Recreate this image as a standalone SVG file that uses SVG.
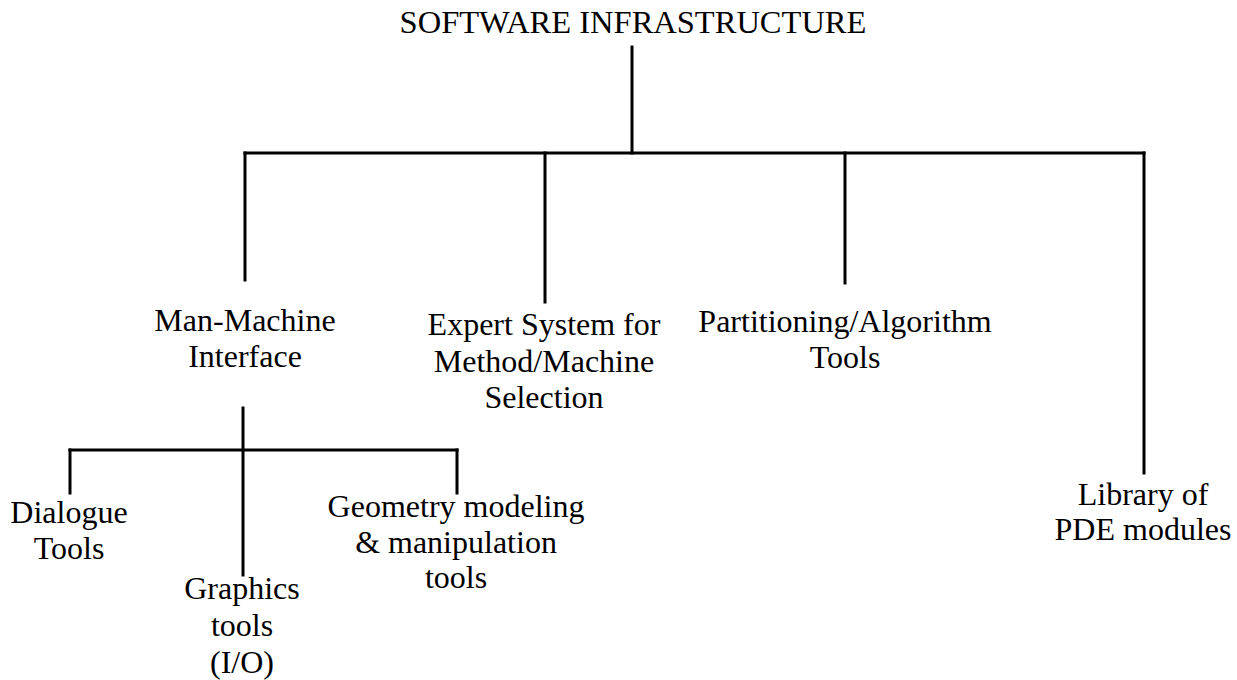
<svg xmlns="http://www.w3.org/2000/svg" width="1237" height="680" viewBox="0 0 1237 680">
<style>
text{font-family:"Liberation Serif","Times New Roman",serif;font-size:32px;fill:#000;text-anchor:middle}
.c line{stroke:#000;stroke-width:3;stroke-linecap:square}
</style>
<rect width="1237" height="680" fill="#fff"/>
<g class="c" id="connectors">
<line x1="632" y1="47" x2="632" y2="153"/>
<line x1="245" y1="153" x2="1144" y2="153"/>
<line x1="245" y1="153" x2="245" y2="280"/>
<line x1="545" y1="153" x2="545" y2="302"/>
<line x1="845" y1="153" x2="845" y2="283"/>
<line x1="1144" y1="153" x2="1144" y2="473"/>
<line x1="243" y1="408" x2="243" y2="575"/>
<line x1="70" y1="450" x2="457" y2="450"/>
<line x1="70" y1="450" x2="70" y2="493"/>
<line x1="457" y1="450" x2="457" y2="493"/>
</g>
<g id="root"><text x="633" y="33" style="font-size:32.5px">SOFTWARE INFRASTRUCTURE</text></g>
<g id="mmi"><text x="245" y="331">Man-Machine</text><text x="245" y="367">Interface</text></g>
<g id="expert"><text x="544" y="335">Expert System for</text><text x="544" y="372">Method/Machine</text><text x="544" y="408">Selection</text></g>
<g id="partition"><text x="845" y="332">Partitioning/Algorithm</text><text x="845" y="368">Tools</text></g>
<g id="library"><text x="1143" y="505">Library of</text><text x="1143" y="540">PDE modules</text></g>
<g id="dialogue"><text x="69" y="523">Dialogue</text><text x="69" y="559">Tools</text></g>
<g id="graphics"><text x="242" y="599">Graphics</text><text x="242" y="636">tools</text><text x="242" y="673">(I/O)</text></g>
<g id="geometry"><text x="456" y="517">Geometry modeling</text><text x="456" y="553">&amp; manipulation</text><text x="456" y="588">tools</text></g>
</svg>
